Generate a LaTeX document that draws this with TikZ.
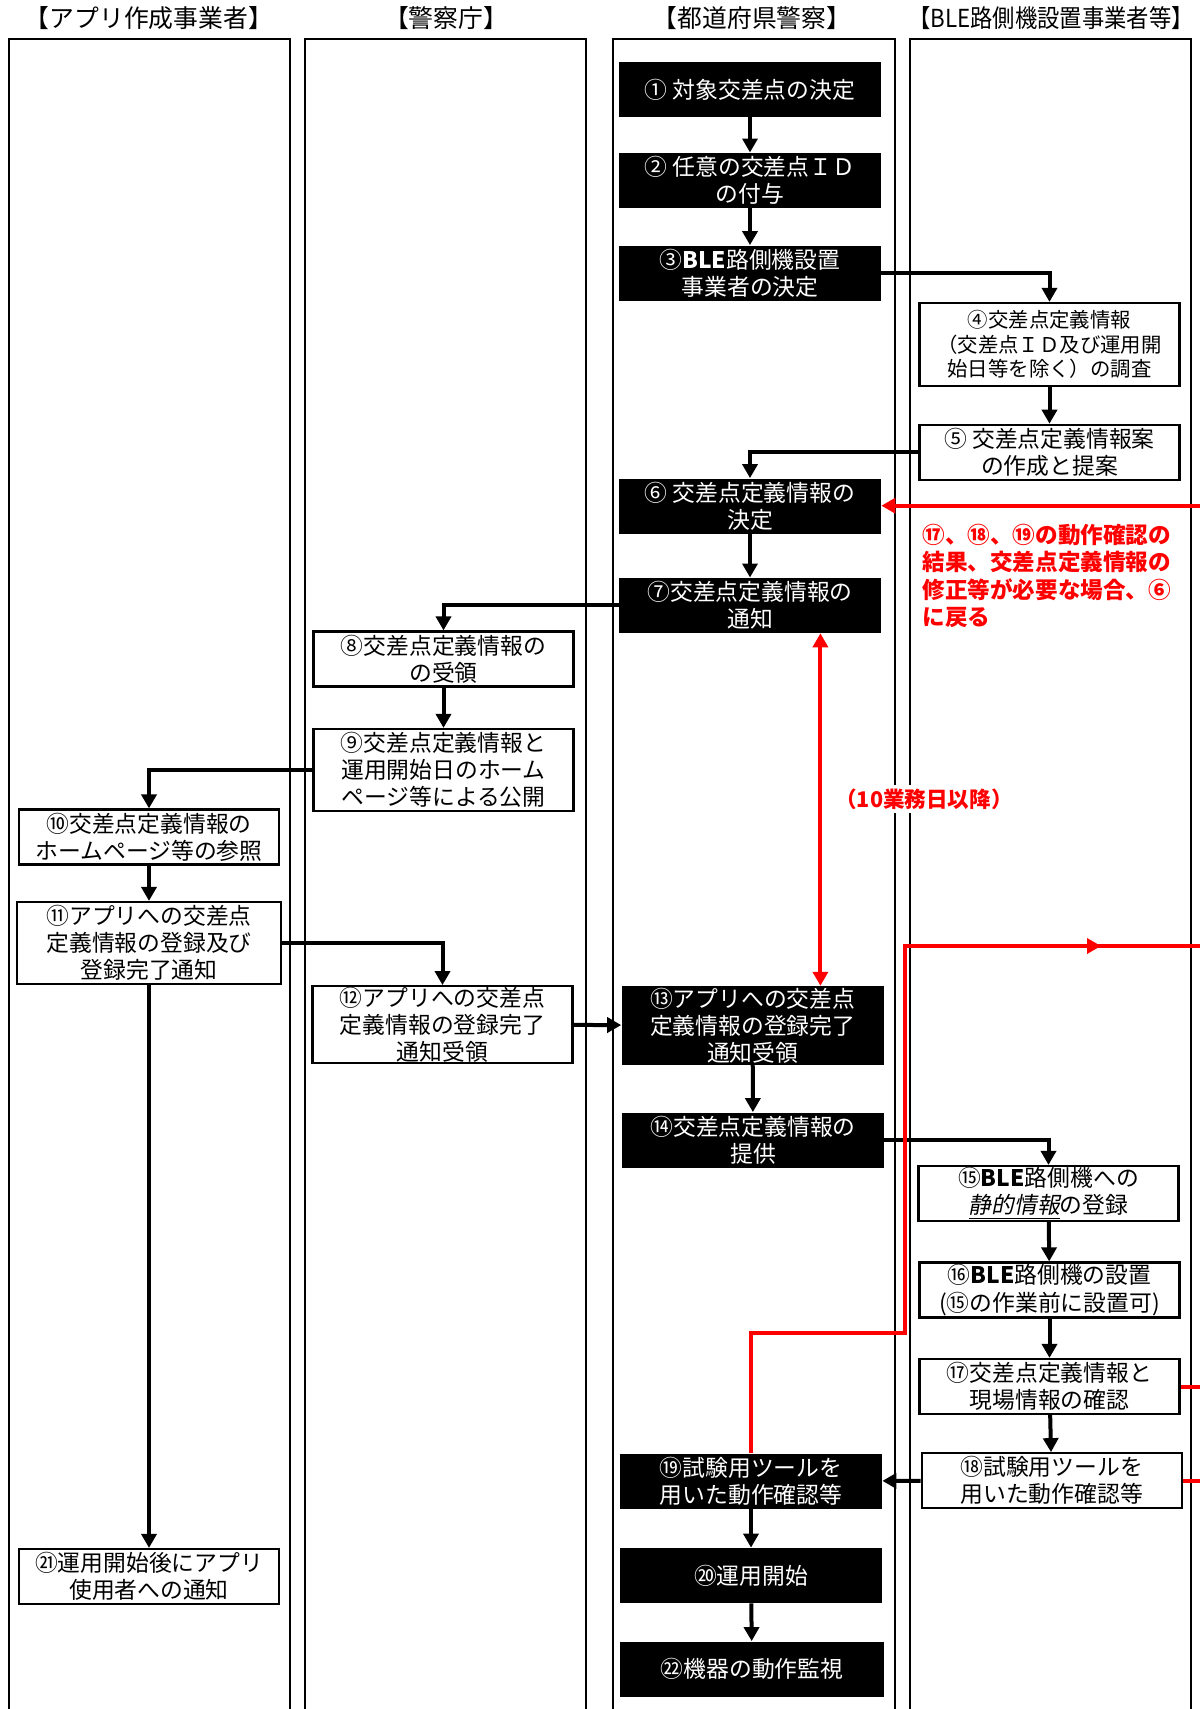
\documentclass[tikz,border=0pt]{standalone}
\usepackage{fontspec}
\setmainfont{Noto Sans CJK JP}[AutoFakeSlant=0.2]
\usepackage{tikz}
\usetikzlibrary{arrows.meta, positioning, calc}
\definecolor{flRed}{HTML}{FF0000}
\newcommand{\ble}{\textbf{BLE}}

\begin{document}
\begin{tikzpicture}[x=0.5pt, y=-0.5pt,
  every node/.style={font=\fontsize{11.4}{13.6}\selectfont},
  head/.style={font=\fontsize{12.4}{14}\selectfont},
  lane/.style={line width=1pt},
  dark/.style={rectangle, fill=black, text=white, minimum width=131pt,
    minimum height=27.5pt, inner sep=0pt, align=center},
  light/.style={rectangle, draw=black, line width=1.1pt, fill=white,
    minimum width=130pt, minimum height=27.5pt, inner sep=0pt, align=center},
  flow/.style={line width=2pt, -{Triangle[length=7pt,width=7.5pt]}},
  back/.style={draw=flRed, line width=2pt},
  note/.style={text=flRed, font=\fontsize{11.3}{13.6}\selectfont\bfseries,
    align=left, inner sep=0pt}]
  \useasboundingbox (0,0) rectangle (1200,1709);

  \foreach \xa/\xb in {8.7/290, 305/586, 612.5/895, 910/1191}
    \draw[lane] (\xa,1720) |- (\xb,39) -- (\xb,1720);

  \node[head] (h1) at (149,18.5) {【アプリ作成事業者】};
  \node[head] (h2) at (446,18.5) {【警察庁】};
  \node[head] (h3) at (752,18.5) {【都道府県警察】};
  \node[head] (h4) at (1051,18.5) {\scalebox{0.9}[1]{【BLE路側機設置事業者等】}};

  \node[dark] (s1) at (750,89.5) {① 対象交差点の決定};
  \node[dark] (s2) at (750,180.4) {② 任意の交差点ＩＤ\\の付与};
  \node[dark] (s3) at (750,273) {③\ble 路側機設置\\事業者の決定};
  \node[light, minimum height=41.5pt, font=\fontsize{10.2}{12.3}\selectfont] (s4)
    at (1049.5,344.5) {④交差点定義情報\\（交差点ＩＤ及び運用開\\始日等を除く）の調査};
  \node[light] (s5) at (1049.5,452.3) {⑤ 交差点定義情報案\\の作成と提案};
  \node[dark] (s6) at (750,506) {⑥ 交差点定義情報の\\決定};
  \node[dark] (s7) at (750,605.4) {⑦交差点定義情報の\\通知};
  \node[light] (s8) at (443.5,659) {⑧交差点定義情報の\\の受領};
  \node[light, minimum height=41pt] (s9) at (443.5,770)
    {⑨交差点定義情報と\\運用開始日のホーム\\ページ等による公開};
  \node[light] (s10) at (149,837) {⑩交差点定義情報の\\ホームページ等の参照};
  \node[light, minimum height=41pt, minimum width=132pt] (s11) at (149,943)
    {⑪アプリへの交差点\\定義情報の登録及び\\登録完了通知};
  \node[light, minimum height=38.3pt] (s12) at (442.5,1024.5)
    {⑫アプリへの交差点\\定義情報の登録完了\\通知受領};
  \node[dark, minimum height=39.3pt] (s13) at (752.6,1025.5)
    {⑬アプリへの交差点\\定義情報の登録完了\\通知受領};
  \node[dark] (s14) at (753,1140) {⑭交差点定義情報の\\提供};
  \node[light] (s15) at (1048.5,1193.5)
    {⑮\ble 路側機への\\\underline{\textit{静的情報}}の登録};
  \node[light] (s16) at (1049.5,1290) {⑯\ble 路側機の設置\\(⑮の作業前に設置可)};
  \node[light] (s17) at (1049.5,1386.5) {⑰交差点定義情報と\\現場情報の確認};
  \node[light] (s18) at (1051.7,1480.7) {⑱試験用ツールを\\用いた動作確認等};
  \node[dark] (s19) at (751,1481) {⑲試験用ツールを\\用いた動作確認等};
  \node[dark] (s20) at (751,1575.5) {⑳運用開始};
  \node[light] (s21) at (149,1576.5) {㉑運用開始後にアプリ\\使用者への通知};
  \node[dark, minimum width=132pt] (s22) at (752,1669) {㉒機器の動作監視};

  \node[note, anchor=north west] (loopnote) at (922,524)
    {⑰、⑱、⑲の動作確認の\\結果、交差点定義情報の\\修正等が必要な場合、⑥\\に戻る};
  \node[note, fill=white, inner sep=2pt, font=\fontsize{10.8}{13}\selectfont\bfseries]
    (days) at (924,799) {（10業務日以降）};

  \draw[flow] (s1) -- (s2);
  \draw[flow] (s2) -- (s3);
  \draw[flow] (s3.east) -| (s4.north);
  \draw[flow] (s4) -- (s5);
  \draw[flow] (s5.west) -| (s6.north);
  \draw[flow] (s6) -- (s7);
  \draw[flow] (s7.west) -| (s8.north);
  \draw[flow] (s8) -- (s9);
  \draw[flow] (s9.west) -| (s10.north);
  \draw[flow] (s10) -- (s11);
  \draw[flow] (s11.east) -| (s12.north);
  \draw[flow] (s11.south) -- (s11.south |- s21.north);
  \draw[flow] (s12) -- (s13);
  \draw[flow] (s13) -- (s14);
  \draw[flow] (s14.east) -| (s15.north);
  \draw[flow] (s15) -- (s16);
  \draw[flow] (s16) -- (s17);
  \draw[flow] (s17) -- (s18);
  \draw[flow] (s18) -- (s19);
  \draw[flow] (s19) -- (s20);
  \draw[flow] (s20) -- (s22);

  \coordinate (ret6) at (1200,505.7);
  \coordinate (gap7) at ([xshift=-30.5pt]s7.south east);
  \coordinate (kink) at (904.6,1333);
  \coordinate (retA) at (1101,946);
  \coordinate (retE) at (1200,946);
  \draw[back, -{Triangle[length=7pt,width=7.5pt]}] (ret6) -- (ret6 -| s6.east);
  \draw[back, {Triangle[length=7pt,width=7.5pt]}-{Triangle[length=7pt,width=7.5pt]}]
    (gap7) -- (gap7 |- s13.north);
  \draw[back] (s19.north) |- (kink) -- (kink |- retA) -- (retE);
  \draw[back, -{Triangle[length=7pt,width=7.5pt]}] (kink |- retA) -- (retA);
  \draw[back] (s17.east) -- (s17.east -| retE);
  \draw[back] (s18.east) -- (s18.east -| retE);
\end{tikzpicture}
\end{document}
